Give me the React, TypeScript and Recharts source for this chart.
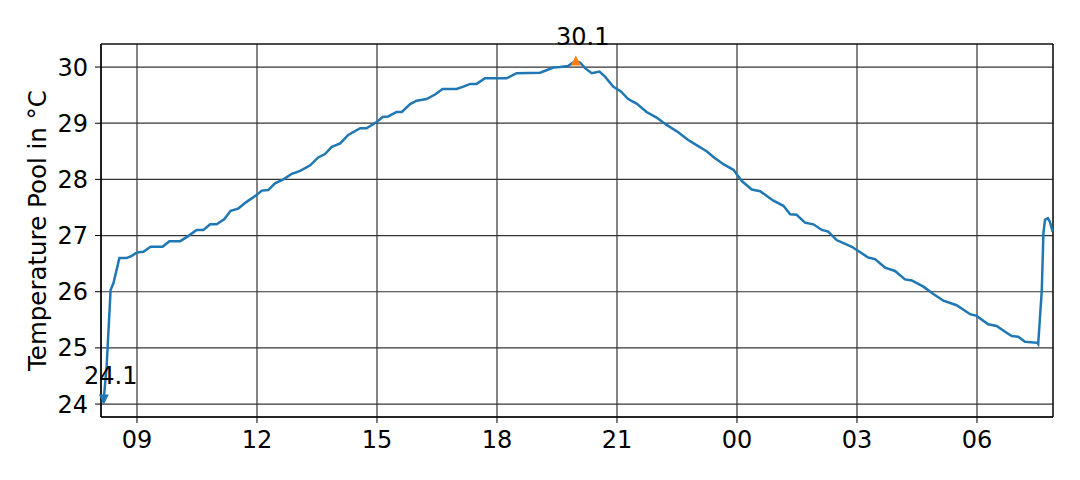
import { ComposedChart, Line, Scatter, XAxis, YAxis, CartesianGrid, ReferenceArea } from 'recharts'

// hours since midnight of the first day (values > 24 are the next morning)
const hours = [
    8.10, 8.17, 8.24, 8.34, 8.41, 8.56, 8.74, 8.87, 9.00, 9.16, 9.34, 9.64, 9.81, 10.08, 10.28, 10.49,
    10.66, 10.83, 10.99, 11.18, 11.34, 11.53, 11.74, 11.99, 12.12, 12.28, 12.45, 12.66, 12.87, 13.08,
    13.33, 13.53, 13.70, 13.87, 14.08, 14.28, 14.58, 14.74, 14.99, 15.14, 15.28, 15.49, 15.62, 15.83,
    15.99, 16.24, 16.45, 16.64, 16.99, 17.16, 17.33, 17.49, 17.70, 18.24, 18.49, 19.08, 19.41, 19.58,
    19.78, 19.95, 20.08, 20.20, 20.37, 20.56, 20.70, 20.91, 21.09, 21.28, 21.49, 21.74, 21.99, 22.24,
    22.53, 22.78, 22.99, 23.24, 23.41, 23.66, 23.91, 24.12, 24.37, 24.58, 24.91, 25.16, 25.33, 25.49,
    25.70, 25.91, 26.12, 26.28, 26.49, 26.87, 27.28, 27.45, 27.70, 27.95, 28.20, 28.37, 28.66, 28.91,
    29.16, 29.49, 29.83, 29.99, 30.28, 30.49, 30.74, 30.87, 31.03, 31.20, 31.51, 31.53, 31.62, 31.66,
    31.70, 31.77, 31.82, 31.89,
]

const temps = [
    24.02, 24.10, 24.66, 26.03, 26.15, 26.60, 26.60, 26.64, 26.70, 26.71, 26.80, 26.80, 26.90, 26.90, 26.99, 27.10,
    27.10, 27.20, 27.20, 27.29, 27.44, 27.48, 27.60, 27.72, 27.80, 27.81, 27.93, 28.00, 28.10, 28.15,
    28.25, 28.39, 28.45, 28.58, 28.64, 28.79, 28.91, 28.91, 29.02, 29.11, 29.12, 29.20, 29.20, 29.34,
    29.40, 29.43, 29.51, 29.61, 29.61, 29.65, 29.70, 29.70, 29.80, 29.80, 29.89, 29.90, 29.99, 30.00,
    30.02, 30.10, 30.08, 29.98, 29.89, 29.92, 29.83, 29.65, 29.57, 29.43, 29.35, 29.20, 29.10, 28.97,
    28.84, 28.70, 28.61, 28.50, 28.40, 28.27, 28.17, 27.97, 27.82, 27.79, 27.62, 27.53, 27.38, 27.37,
    27.23, 27.20, 27.10, 27.07, 26.92, 26.80, 26.61, 26.58, 26.43, 26.37, 26.22, 26.20, 26.09, 25.96,
    25.84, 25.76, 25.60, 25.57, 25.42, 25.39, 25.27, 25.21, 25.20, 25.11, 25.09, 25.07, 26.03, 27.04,
    27.28, 27.31, 27.25, 27.07,
]

const xTicks = [9, 12, 15, 18, 21, 24, 27, 30]
const yTicks = [24, 25, 26, 27, 28, 29, 30]

const maxPoint = [{ h: 19.97, t: 30.1 }]
const minPoint = [{ h: 8.17, t: 24.1 }]

const xDomain = [8.1, 31.9]
const yDomain = [23.77, 30.41]

const data = hours.map((h, i) => ({ h, t: temps[i] }))

const font = 'DejaVu Sans'
const fontSize = 24

const fmtHour = (v: number) => String(v % 24).padStart(2, '0')

function UpMarker(props: any) {
    const { cx, cy, payload } = props
    return (
        <g>
            <polygon points={`${cx},${cy - 6} ${cx - 5},${cy + 4} ${cx + 5},${cy + 4}`} fill="#ff7f0e" />
            <text x={cx + 7} y={cy - 16} textAnchor="middle" fontSize={fontSize} fontFamily={font} fill="#000">
                {payload.t.toFixed(1)}
            </text>
        </g>
    )
}

function DownMarker(props: any) {
    const { cx, cy, payload } = props
    return (
        <g>
            <polygon points={`${cx},${cy + 6} ${cx - 5},${cy - 4} ${cx + 5},${cy - 4}`} fill="#1f77b4" />
            <text x={cx + 7} y={cy - 14} textAnchor="middle" fontSize={fontSize} fontFamily={font} fill="#000">
                {payload.t.toFixed(1)}
            </text>
        </g>
    )
}

function YLabel(props: any) {
    const { viewBox } = props
    const x = viewBox.x - 4
    const y = viewBox.y + viewBox.height / 2
    return (
        <text x={x} y={y} transform={`rotate(-90 ${x} ${y})`} textAnchor="middle" dominantBaseline="central"
            fontSize={24.5} fontFamily={font} fill="#000">
            Temperature Pool in °C
        </text>
    )
}

export default function App() {
    return (
        <div style={{ position: 'absolute', left: 0, top: 0, background: '#fff' }}>
            <ComposedChart width={1080} height={480} data={data} margin={{ top: 44, right: 27, bottom: 23, left: 41 }}>
                <CartesianGrid stroke="#333" strokeWidth={1.2} />
                <XAxis
                    dataKey="h"
                    type="number"
                    domain={xDomain}
                    ticks={xTicks}
                    tickFormatter={fmtHour}
                    height={40}
                    tickSize={6}
                    tickMargin={8}
                    stroke="#000"
                    tick={{ fill: '#000', fontSize, fontFamily: font }}
                />
                <YAxis
                    type="number"
                    domain={yDomain}
                    ticks={yTicks}
                    width={60}
                    tickSize={6}
                    tickMargin={7}
                    stroke="#000"
                    tick={{ fill: '#000', fontSize, fontFamily: font }}
                    label={{ content: YLabel }}
                />
                <ReferenceArea x1={xDomain[0]} x2={xDomain[1]} y1={yDomain[0]} y2={yDomain[1]} fill="none" stroke="#000" strokeWidth={1} fillOpacity={0} />
                <Line dataKey="t" type="linear" stroke="#1f77b4" strokeWidth={2.5} dot={false} isAnimationActive={false} />
                <Scatter data={maxPoint} dataKey="t" shape={UpMarker} isAnimationActive={false} />
                <Scatter data={minPoint} dataKey="t" shape={DownMarker} isAnimationActive={false} />
            </ComposedChart>
        </div>
    )
}
